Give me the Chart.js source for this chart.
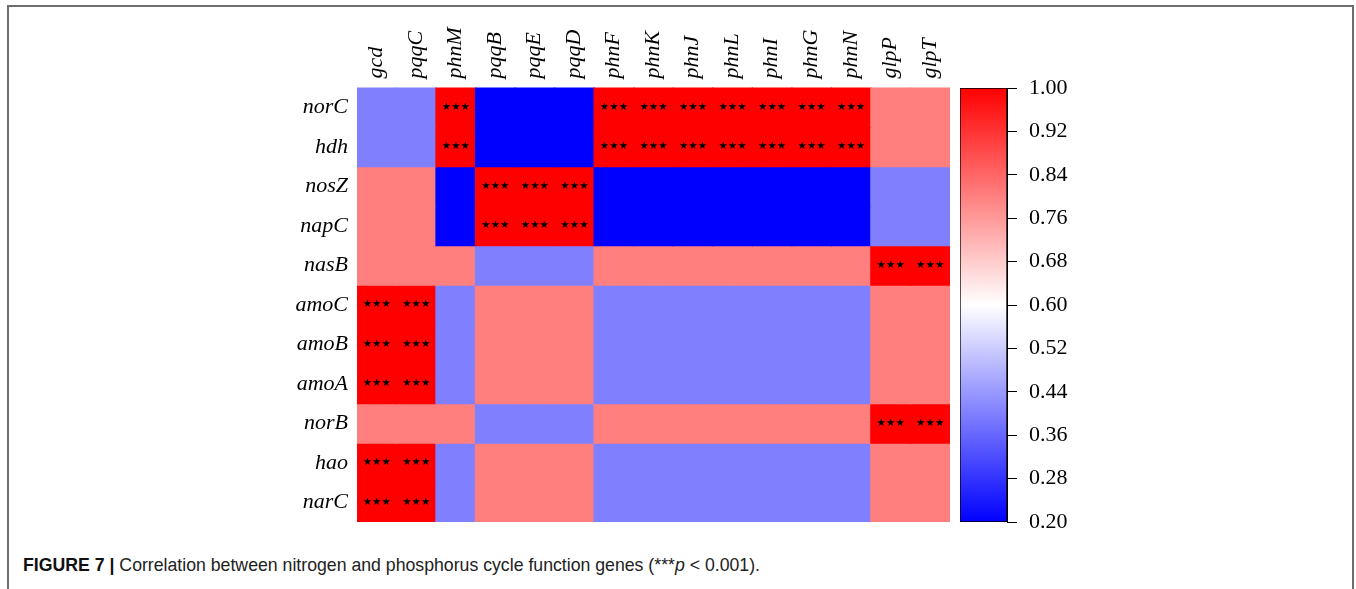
<!DOCTYPE html>
<html>
<head>
<meta charset="utf-8">
<script src="https://cdn.jsdelivr.net/npm/chart.js@4.4.1/dist/chart.umd.min.js"></script>
<style>
  body { margin: 0; background: #fff; width: 1356px; height: 589px; overflow: hidden; position: relative; }
  #frame { position: absolute; left: 7px; top: 5px; width: 1343px; height: 700px; border: 2px solid #6e6e6e; }
  #heat { position: absolute; left: 240px; top: 0; }
  #cbar { position: absolute; left: 950px; top: 0; }
  #caption { position: absolute; left: 23px; top: 555px; font-family: "Liberation Sans", Arial, sans-serif; font-size: 17.7px; color: #222; white-space: nowrap; }
  #caption b { color: #111; }
</style>
</head>
<body>
<div id="frame"></div>
<canvas id="heat" width="720" height="530"></canvas>
<canvas id="cbar" width="150" height="589"></canvas>
<div id="caption"><b>FIGURE 7 |</b> Correlation between nitrogen and phosphorus cycle function genes (***<i>p</i> &lt; 0.001).</div>

<script>
const COLS = ['gcd', 'pqqC', 'phnM', 'pqqB', 'pqqE', 'pqqD', 'phnF', 'phnK', 'phnJ', 'phnL', 'phnI', 'phnG', 'phnN', 'glpP', 'glpT'];
const ROWS = ['norC', 'hdh', 'nosZ', 'napC', 'nasB', 'amoC', 'amoB', 'amoA', 'norB', 'hao', 'narC'];

// correlation per row gene, in COLS order
const norC = [0.4, 0.4, 1.0, 0.2, 0.2, 0.2, 1.0, 1.0, 1.0, 1.0, 1.0, 1.0, 1.0, 0.8, 0.8];
const hdh  = [0.4, 0.4, 1.0, 0.2, 0.2, 0.2, 1.0, 1.0, 1.0, 1.0, 1.0, 1.0, 1.0, 0.8, 0.8];
const nosZ = [0.8, 0.8, 0.2, 1.0, 1.0, 1.0, 0.2, 0.2, 0.2, 0.2, 0.2, 0.2, 0.2, 0.4, 0.4];
const napC = [0.8, 0.8, 0.2, 1.0, 1.0, 1.0, 0.2, 0.2, 0.2, 0.2, 0.2, 0.2, 0.2, 0.4, 0.4];
const nasB = [0.8, 0.8, 0.8, 0.4, 0.4, 0.4, 0.8, 0.8, 0.8, 0.8, 0.8, 0.8, 0.8, 1.0, 1.0];
const amoC = [1.0, 1.0, 0.4, 0.8, 0.8, 0.8, 0.4, 0.4, 0.4, 0.4, 0.4, 0.4, 0.4, 0.8, 0.8];
const amoB = [1.0, 1.0, 0.4, 0.8, 0.8, 0.8, 0.4, 0.4, 0.4, 0.4, 0.4, 0.4, 0.4, 0.8, 0.8];
const amoA = [1.0, 1.0, 0.4, 0.8, 0.8, 0.8, 0.4, 0.4, 0.4, 0.4, 0.4, 0.4, 0.4, 0.8, 0.8];
const norB = [0.8, 0.8, 0.8, 0.4, 0.4, 0.4, 0.8, 0.8, 0.8, 0.8, 0.8, 0.8, 0.8, 1.0, 1.0];
const hao  = [1.0, 1.0, 0.4, 0.8, 0.8, 0.8, 0.4, 0.4, 0.4, 0.4, 0.4, 0.4, 0.4, 0.8, 0.8];
const narC = [1.0, 1.0, 0.4, 0.8, 0.8, 0.8, 0.4, 0.4, 0.4, 0.4, 0.4, 0.4, 0.4, 0.8, 0.8];
const MATRIX = [norC, hdh, nosZ, napC, nasB, amoC, amoB, amoA, norB, hao, narC];

// cells with ***p < 0.001
const SIG_NP = ['phnM', 'phnF', 'phnK', 'phnJ', 'phnL', 'phnI', 'phnG', 'phnN'];
const SIG_PQQ = ['pqqB', 'pqqE', 'pqqD'];
const SIG_GLP = ['glpP', 'glpT'];
const SIG_GCD = ['gcd', 'pqqC'];
const SIGS = [SIG_NP, SIG_NP, SIG_PQQ, SIG_PQQ, SIG_GLP, SIG_GCD, SIG_GCD, SIG_GCD, SIG_GLP, SIG_GCD, SIG_GCD];

const CB_MIN = 0.2, CB_MAX = 1.0;
const CB_TICKS = [0.20, 0.28, 0.36, 0.44, 0.52, 0.60, 0.68, 0.76, 0.84, 0.92, 1.00];

const SERIF = '"Liberation Serif", "Times New Roman", serif';

// blue -> white -> red
function corrColor(v) {
  const t = (v - CB_MIN) / (CB_MAX - CB_MIN);
  let r, g, b;
  if (t < 0.5) {
    const k = t / 0.5;
    r = g = Math.round(255 * k); b = 255;
  } else {
    const k = (1 - t) / 0.5;
    r = 255; g = b = Math.round(255 * k);
  }
  return `rgb(${r},${g},${b})`;
}

const noPad = s => { s.paddingTop = 0; s.paddingBottom = 0; s.paddingLeft = 0; s.paddingRight = 0; };

const starPlugin = {
  id: 'stars',
  afterDatasetsDraw(chart) {
    const { ctx, scales: { x, y } } = chart;
    ctx.save();
    ctx.font = '10.5px "DejaVu Sans"';
    ctx.fillStyle = '#000';
    ctx.textAlign = 'center';
    ctx.textBaseline = 'middle';
    SIGS.forEach((cols, i) => {
      cols.forEach(c => {
        ctx.fillText('★★★', x.getPixelForValue(COLS.indexOf(c)), y.getPixelForValue(i + 0.5));
      });
    });
    ctx.restore();
  }
};

new Chart(document.getElementById('heat'), {
  type: 'bar',
  data: {
    labels: COLS,
    datasets: MATRIX.map((row, i) => ({
      label: ROWS[i],
      data: row.map(() => [i, i + 1]),
      backgroundColor: row.map(corrColor),
      borderWidth: 0,
      inflateAmount: 0.7,
      grouped: false,
      barPercentage: 1,
      categoryPercentage: 1
    }))
  },
  options: {
    responsive: false,
    animation: false,
    devicePixelRatio: 1,
    layout: { padding: { top: 0, right: 10, bottom: 8, left: 0 } },
    plugins: { legend: { display: false }, tooltip: { enabled: false } },
    scales: {
      x: {
        position: 'top',
        grid: { display: false, drawTicks: false },
        border: { display: false },
        ticks: {
          autoSkip: false, minRotation: 90, maxRotation: 90, padding: 9, labelOffset: 26, color: '#000',
          font: { family: SERIF, style: 'italic', size: 22 }
        },
        afterFit: s => { s.height = 87.5; noPad(s); }
      },
      y: {
        min: 0, max: ROWS.length, reverse: true,
        grid: { display: false, drawTicks: false },
        border: { display: false },
        afterBuildTicks: s => { s.ticks = ROWS.map((_, i) => ({ value: i + 0.5 })); },
        ticks: {
          callback: (v, i) => ROWS[i], padding: 9, color: '#000',
          font: { family: SERIF, style: 'italic', size: 22 }
        },
        afterFit: s => { s.width = 117; noPad(s); }
      }
    }
  },
  plugins: [starPlugin]
});

new Chart(document.getElementById('cbar'), {
  type: 'bar',
  data: {
    labels: [''],
    datasets: [{
      data: [[CB_MIN, CB_MAX]],
      backgroundColor: (c) => {
        const area = c.chart.chartArea;
        if (!area) return '#fff';
        const g = c.chart.ctx.createLinearGradient(0, area.bottom, 0, area.top);
        g.addColorStop(0, corrColor(CB_MIN));
        g.addColorStop(0.5, corrColor((CB_MIN + CB_MAX) / 2));
        g.addColorStop(1, corrColor(CB_MAX));
        return g;
      },
      borderColor: '#000',
      borderWidth: 1,
      borderSkipped: false,
      barPercentage: 1,
      categoryPercentage: 1
    }]
  },
  options: {
    responsive: false,
    animation: false,
    devicePixelRatio: 1,
    layout: { padding: { top: 88, right: 0, bottom: 67, left: 10 } },
    plugins: { legend: { display: false }, tooltip: { enabled: false } },
    scales: {
      x: { display: false },
      y: {
        position: 'right', min: CB_MIN, max: CB_MAX,
        afterBuildTicks: s => { s.ticks = CB_TICKS.map(v => ({ value: v })); },
        grid: { drawOnChartArea: false, drawTicks: true, tickLength: 10, color: '#000', lineWidth: 1 },
        border: { display: true, color: '#000' },
        ticks: {
          padding: 12, color: '#000', callback: v => v.toFixed(2),
          font: { family: SERIF, size: 22 }
        },
        afterFit: s => { s.width = 93; noPad(s); }
      }
    }
  }
});
</script>
</body>
</html>
